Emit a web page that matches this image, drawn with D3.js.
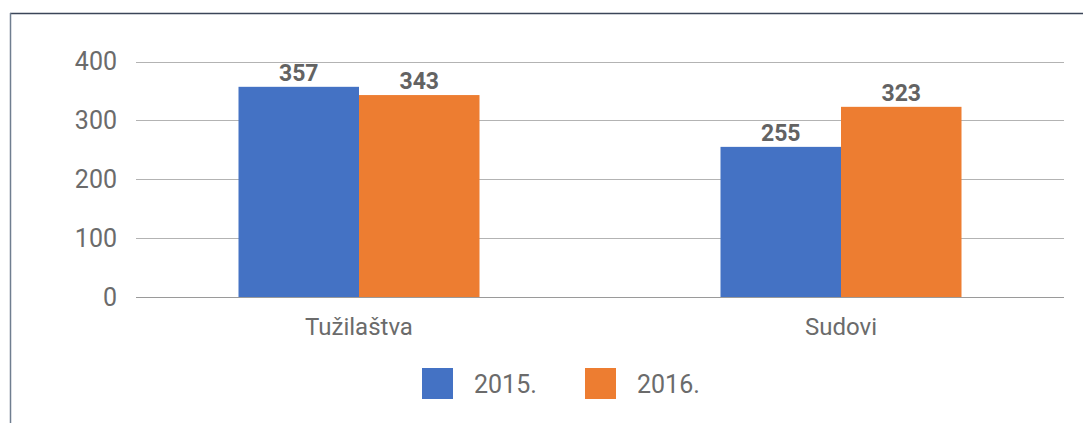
<!DOCTYPE html>
<html>
<head>
<meta charset="utf-8">
<script src="https://cdn.jsdelivr.net/npm/d3@7"></script>
<style>
  body { margin: 0; background: #fff; }
  svg { display: block; font-family: Roboto, "Noto Sans", sans-serif; }
</style>
</head>
<body>
<div id="chart"></div>
<script>
var categories = ["Tužilaštva", "Sudovi"];
var years = ["2015.", "2016."];
var values2015 = [357, 255];
var values2016 = [343, 323];
var yTicks = [0, 100, 200, 300, 400];

var W = 1083, H = 423;
var colors = ["#4472C4", "#ED7D31"];

var svg = d3.select("#chart").append("svg")
    .attr("width", W)
    .attr("height", H);

// frame (only top and left edges show in the crop)
svg.append("line")
    .attr("x1", 10).attr("x2", W).attr("y1", 13.5).attr("y2", 13.5)
    .attr("stroke", "#3b4658").attr("stroke-width", 1.5);
svg.append("line")
    .attr("x1", 10.5).attr("x2", 10.5).attr("y1", 13).attr("y2", H)
    .attr("stroke", "#6f7e90").attr("stroke-width", 1.5);

var y = d3.scaleLinear()
    .domain([0, 400])
    .range([297, 61.5]);

var x = d3.scaleBand()
    .domain(categories)
    .range([118, 1082])
    .paddingInner(0.5)
    .paddingOuter(0.25);

var xs = d3.scaleBand()
    .domain(years)
    .range([0, x.bandwidth()]);

var gridLeft = 136, gridRight = 1064;

// gridlines
svg.append("g").selectAll("line")
    .data(yTicks)
    .enter().append("line")
    .attr("x1", gridLeft)
    .attr("x2", gridRight)
    .attr("y1", function (d) { return Math.round(y(d)) + 0.5; })
    .attr("y2", function (d) { return Math.round(y(d)) + 0.5; })
    .attr("stroke", function (d) { return d === 0 ? "#9a9a9a" : "#b3b3b3"; })
    .attr("stroke-width", 1.2);

// y tick labels
svg.append("g").selectAll("text")
    .data(yTicks)
    .enter().append("text")
    .attr("x", 117)
    .attr("y", function (d) { return y(d); })
    .attr("dy", "0.35em")
    .attr("text-anchor", "end")
    .style("font-size", "25px")
    .style("fill", "#6b6b6b")
    .text(function (d) { return d; });

var rows = categories.map(function (c, i) {
    return { cat: c, vals: [values2015[i], values2016[i]] };
});

var groups = svg.append("g").selectAll("g")
    .data(rows)
    .enter().append("g")
    .attr("transform", function (d) { return "translate(" + x(d.cat) + ",0)"; });

groups.selectAll("rect")
    .data(function (d) { return d.vals.map(function (v, j) { return { v: v, s: years[j], j: j }; }); })
    .enter().append("rect")
    .attr("x", function (d) { return xs(d.s); })
    .attr("width", xs.bandwidth())
    .attr("y", function (d) { return y(d.v); })
    .attr("height", function (d) { return y(0) - y(d.v); })
    .style("fill", function (d) { return colors[d.j]; });

groups.selectAll("text.val")
    .data(function (d) { return d.vals.map(function (v, j) { return { v: v, s: years[j] }; }); })
    .enter().append("text")
    .attr("class", "val")
    .attr("x", function (d) { return xs(d.s) + xs.bandwidth() / 2; })
    .attr("y", function (d) { return y(d.v) - 6; })
    .attr("text-anchor", "middle")
    .style("font-size", "23px")
    .style("font-weight", "bold")
    .style("fill", "#636363")
    .text(function (d) { return d.v; });

// category labels
svg.append("g").selectAll("text")
    .data(categories)
    .enter().append("text")
    .attr("x", function (d) { return x(d) + x.bandwidth() / 2; })
    .attr("y", 335)
    .attr("text-anchor", "middle")
    .style("font-size", "24px")
    .style("fill", "#6b6b6b")
    .text(function (d) { return d; });

// legend
var legend = svg.append("g").selectAll("g")
    .data(years)
    .enter().append("g")
    .attr("transform", function (d, i) { return "translate(" + (422 + i * 163) + ",368)"; });

legend.append("rect")
    .attr("width", 31)
    .attr("height", 31)
    .style("fill", function (d, i) { return colors[i]; });

legend.append("text")
    .attr("x", 52)
    .attr("y", 16)
    .attr("dy", "0.35em")
    .style("font-size", "25px")
    .style("fill", "#6b6b6b")
    .text(function (d) { return d; });
</script>
</body>
</html>
